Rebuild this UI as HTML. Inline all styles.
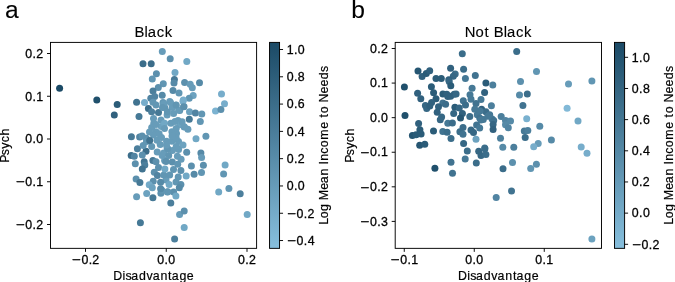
<!DOCTYPE html>
<html><head><meta charset="utf-8"><style>html,body{margin:0;padding:0;background:#fff;}svg{display:block;} text{-webkit-font-smoothing:antialiased;} .t{will-change:transform;}</style></head>
<body><svg width="675" height="282" viewBox="0 0 675 282">
<rect width="675" height="282" fill="#fff"/>
<defs>
<clipPath id="cl"><rect x="50.5" y="42.4" width="206.10000000000002" height="205.95"/></clipPath>
<clipPath id="cr"><rect x="395.2" y="42.4" width="206.3" height="205.95"/></clipPath>
<linearGradient id="g" x1="0" y1="1" x2="0" y2="0"><stop offset="0" stop-color="#87bfdd"/><stop offset="1" stop-color="#1b4a66"/></linearGradient>
</defs>
<g clip-path="url(#cl)">
<circle cx="176.5" cy="133.5" r="3.5" fill="#679cb9"/>
<circle cx="178.5" cy="141.5" r="3.5" fill="#679cb9"/>
<circle cx="177.0" cy="148.0" r="3.5" fill="#6196b3"/>
<circle cx="173.5" cy="169.5" r="3.5" fill="#6196b3"/>
<circle cx="166.0" cy="180.0" r="3.5" fill="#679cb9"/>
<circle cx="176.0" cy="182.0" r="3.5" fill="#6196b3"/>
<circle cx="59.6" cy="88.3" r="3.5" fill="#1b4a66"/>
<circle cx="96.8" cy="100.0" r="3.5" fill="#20506c"/>
<circle cx="117.2" cy="104.4" r="3.5" fill="#2b5c78"/>
<circle cx="114.3" cy="115.1" r="3.5" fill="#31617e"/>
<circle cx="136.6" cy="102.3" r="3.5" fill="#417390"/>
<circle cx="139.0" cy="116.5" r="3.5" fill="#467996"/>
<circle cx="162.3" cy="51.5" r="3.5" fill="#679cb9"/>
<circle cx="170.2" cy="58.8" r="3.5" fill="#5c90ad"/>
<circle cx="143.0" cy="63.8" r="3.5" fill="#3b6d8a"/>
<circle cx="151.2" cy="63.7" r="3.5" fill="#3b6d8a"/>
<circle cx="186.8" cy="61.5" r="3.5" fill="#71a8c5"/>
<circle cx="156.4" cy="73.7" r="3.5" fill="#5c90ad"/>
<circle cx="175.0" cy="72.4" r="3.5" fill="#71a8c5"/>
<circle cx="152.3" cy="79.0" r="3.5" fill="#6196b3"/>
<circle cx="174.4" cy="79.6" r="3.5" fill="#467996"/>
<circle cx="174.0" cy="83.0" r="3.5" fill="#568aa7"/>
<circle cx="163.3" cy="83.8" r="3.5" fill="#6196b3"/>
<circle cx="158.3" cy="87.6" r="3.5" fill="#5c90ad"/>
<circle cx="153.0" cy="90.9" r="3.5" fill="#4c7f9c"/>
<circle cx="173.0" cy="90.6" r="3.5" fill="#568aa7"/>
<circle cx="179.0" cy="92.9" r="3.5" fill="#6196b3"/>
<circle cx="184.6" cy="82.5" r="3.5" fill="#5c90ad"/>
<circle cx="190.2" cy="84.2" r="3.5" fill="#679cb9"/>
<circle cx="192.3" cy="87.8" r="3.5" fill="#679cb9"/>
<circle cx="199.5" cy="82.8" r="3.5" fill="#568aa7"/>
<circle cx="193.2" cy="95.5" r="3.5" fill="#6ca2bf"/>
<circle cx="189.2" cy="98.2" r="3.5" fill="#6196b3"/>
<circle cx="183.3" cy="100.0" r="3.5" fill="#77adcb"/>
<circle cx="144.5" cy="102.5" r="3.5" fill="#77adcb"/>
<circle cx="162.2" cy="95.2" r="3.5" fill="#568aa7"/>
<circle cx="154.7" cy="96.6" r="3.5" fill="#5184a2"/>
<circle cx="150.8" cy="98.2" r="3.5" fill="#5184a2"/>
<circle cx="153.0" cy="102.3" r="3.5" fill="#6196b3"/>
<circle cx="163.0" cy="102.5" r="3.5" fill="#6196b3"/>
<circle cx="169.7" cy="101.4" r="3.5" fill="#679cb9"/>
<circle cx="148.4" cy="108.4" r="3.5" fill="#3b6d8a"/>
<circle cx="176.0" cy="105.3" r="3.5" fill="#6196b3"/>
<circle cx="184.0" cy="106.6" r="3.5" fill="#5c90ad"/>
<circle cx="221.5" cy="94.0" r="3.5" fill="#77adcb"/>
<circle cx="224.5" cy="103.7" r="3.5" fill="#77adcb"/>
<circle cx="215.5" cy="110.9" r="3.5" fill="#7cb3d1"/>
<circle cx="220.9" cy="109.6" r="3.5" fill="#5c90ad"/>
<circle cx="172.2" cy="107.6" r="3.5" fill="#679cb9"/>
<circle cx="179.7" cy="110.5" r="3.5" fill="#6196b3"/>
<circle cx="189.5" cy="111.7" r="3.5" fill="#6ca2bf"/>
<circle cx="195.4" cy="113.0" r="3.5" fill="#5184a2"/>
<circle cx="201.8" cy="113.9" r="3.5" fill="#6196b3"/>
<circle cx="189.3" cy="119.3" r="3.5" fill="#467996"/>
<circle cx="200.3" cy="121.4" r="3.5" fill="#6196b3"/>
<circle cx="183.0" cy="101.2" r="3.5" fill="#77adcb"/>
<circle cx="151.6" cy="111.8" r="3.5" fill="#4c7f9c"/>
<circle cx="156.0" cy="105.0" r="3.5" fill="#6196b3"/>
<circle cx="158.5" cy="112.4" r="3.5" fill="#467996"/>
<circle cx="153.5" cy="118.6" r="3.5" fill="#679cb9"/>
<circle cx="161.0" cy="119.9" r="3.5" fill="#679cb9"/>
<circle cx="164.7" cy="107.4" r="3.5" fill="#6196b3"/>
<circle cx="167.1" cy="114.9" r="3.5" fill="#679cb9"/>
<circle cx="163.7" cy="103.7" r="3.5" fill="#679cb9"/>
<circle cx="162.5" cy="107.4" r="3.5" fill="#6196b3"/>
<circle cx="170.5" cy="102.5" r="3.5" fill="#679cb9"/>
<circle cx="167.4" cy="111.8" r="3.5" fill="#6196b3"/>
<circle cx="173.6" cy="113.6" r="3.5" fill="#679cb9"/>
<circle cx="178.6" cy="109.9" r="3.5" fill="#679cb9"/>
<circle cx="176.1" cy="105.0" r="3.5" fill="#6196b3"/>
<circle cx="183.6" cy="106.8" r="3.5" fill="#5c90ad"/>
<circle cx="178.0" cy="120.5" r="3.5" fill="#679cb9"/>
<circle cx="179.9" cy="124.8" r="3.5" fill="#6ca2bf"/>
<circle cx="182.1" cy="121.7" r="3.5" fill="#679cb9"/>
<circle cx="184.3" cy="127.0" r="3.5" fill="#6ca2bf"/>
<circle cx="187.9" cy="129.3" r="3.5" fill="#679cb9"/>
<circle cx="184.2" cy="126.7" r="3.5" fill="#679cb9"/>
<circle cx="131.4" cy="136.7" r="3.5" fill="#467996"/>
<circle cx="139.6" cy="137.0" r="3.5" fill="#5184a2"/>
<circle cx="137.4" cy="148.7" r="3.5" fill="#4c7f9c"/>
<circle cx="146.0" cy="151.2" r="3.5" fill="#3b6d8a"/>
<circle cx="131.2" cy="155.6" r="3.5" fill="#3b6d8a"/>
<circle cx="134.3" cy="156.2" r="3.5" fill="#5184a2"/>
<circle cx="142.3" cy="155.0" r="3.5" fill="#5c90ad"/>
<circle cx="135.3" cy="163.8" r="3.5" fill="#5c90ad"/>
<circle cx="144.2" cy="161.8" r="3.5" fill="#417390"/>
<circle cx="144.8" cy="164.9" r="3.5" fill="#4c7f9c"/>
<circle cx="152.9" cy="160.5" r="3.5" fill="#467996"/>
<circle cx="157.2" cy="151.9" r="3.5" fill="#679cb9"/>
<circle cx="162.2" cy="155.6" r="3.5" fill="#679cb9"/>
<circle cx="167.1" cy="148.1" r="3.5" fill="#679cb9"/>
<circle cx="164.7" cy="160.5" r="3.5" fill="#679cb9"/>
<circle cx="196.0" cy="138.8" r="3.5" fill="#71a8c5"/>
<circle cx="205.9" cy="136.3" r="3.5" fill="#6196b3"/>
<circle cx="200.9" cy="153.1" r="3.5" fill="#568aa7"/>
<circle cx="201.6" cy="157.4" r="3.5" fill="#679cb9"/>
<circle cx="191.4" cy="166.0" r="3.5" fill="#5c90ad"/>
<circle cx="203.4" cy="165.3" r="3.5" fill="#5c90ad"/>
<circle cx="186.7" cy="152.3" r="3.5" fill="#5c90ad"/>
<circle cx="183.0" cy="145.0" r="3.5" fill="#6ca2bf"/>
<circle cx="172.4" cy="150.6" r="3.5" fill="#679cb9"/>
<circle cx="178.6" cy="149.4" r="3.5" fill="#679cb9"/>
<circle cx="163.7" cy="153.1" r="3.5" fill="#679cb9"/>
<circle cx="168.7" cy="155.6" r="3.5" fill="#6196b3"/>
<circle cx="177.4" cy="156.2" r="3.5" fill="#679cb9"/>
<circle cx="181.1" cy="159.3" r="3.5" fill="#679cb9"/>
<circle cx="165.0" cy="160.5" r="3.5" fill="#679cb9"/>
<circle cx="142.3" cy="169.0" r="3.5" fill="#417390"/>
<circle cx="136.1" cy="178.9" r="3.5" fill="#5c90ad"/>
<circle cx="139.9" cy="182.6" r="3.5" fill="#467996"/>
<circle cx="146.7" cy="193.4" r="3.5" fill="#6ca2bf"/>
<circle cx="136.6" cy="196.7" r="3.5" fill="#679cb9"/>
<circle cx="152.9" cy="197.8" r="3.5" fill="#467996"/>
<circle cx="160.9" cy="193.2" r="3.5" fill="#5c90ad"/>
<circle cx="167.8" cy="191.7" r="3.5" fill="#6196b3"/>
<circle cx="194.1" cy="174.2" r="3.5" fill="#568aa7"/>
<circle cx="201.5" cy="172.4" r="3.5" fill="#6196b3"/>
<circle cx="173.6" cy="192.1" r="3.5" fill="#5c90ad"/>
<circle cx="175.9" cy="196.0" r="3.5" fill="#71a8c5"/>
<circle cx="167.4" cy="191.9" r="3.5" fill="#6196b3"/>
<circle cx="161.9" cy="190.2" r="3.5" fill="#6196b3"/>
<circle cx="170.8" cy="203.1" r="3.5" fill="#4c7f9c"/>
<circle cx="179.6" cy="214.6" r="3.5" fill="#679cb9"/>
<circle cx="184.2" cy="211.1" r="3.5" fill="#5c90ad"/>
<circle cx="140.4" cy="222.7" r="3.5" fill="#467996"/>
<circle cx="184.2" cy="227.4" r="3.5" fill="#71a8c5"/>
<circle cx="174.6" cy="239.0" r="3.5" fill="#4c7f9c"/>
<circle cx="225.1" cy="165.0" r="3.5" fill="#71a8c5"/>
<circle cx="223.6" cy="173.9" r="3.5" fill="#6196b3"/>
<circle cx="218.7" cy="192.0" r="3.5" fill="#71a8c5"/>
<circle cx="228.9" cy="188.4" r="3.5" fill="#6196b3"/>
<circle cx="240.2" cy="193.7" r="3.5" fill="#4c7f9c"/>
<circle cx="247.2" cy="214.4" r="3.5" fill="#71a8c5"/>
<circle cx="142.1" cy="136.0" r="3.5" fill="#5c90ad"/>
<circle cx="146.2" cy="138.2" r="3.5" fill="#5c90ad"/>
<circle cx="143.2" cy="145.5" r="3.5" fill="#6196b3"/>
<circle cx="153.8" cy="123.2" r="3.5" fill="#679cb9"/>
<circle cx="151.7" cy="127.4" r="3.5" fill="#679cb9"/>
<circle cx="156.0" cy="131.7" r="3.5" fill="#679cb9"/>
<circle cx="161.3" cy="126.4" r="3.5" fill="#6ca2bf"/>
<circle cx="164.5" cy="123.2" r="3.5" fill="#71a8c5"/>
<circle cx="170.9" cy="123.2" r="3.5" fill="#679cb9"/>
<circle cx="171.9" cy="131.7" r="3.5" fill="#679cb9"/>
<circle cx="176.2" cy="128.5" r="3.5" fill="#679cb9"/>
<circle cx="159.1" cy="133.8" r="3.5" fill="#679cb9"/>
<circle cx="164.5" cy="128.5" r="3.5" fill="#679cb9"/>
<circle cx="157.0" cy="140.2" r="3.5" fill="#679cb9"/>
<circle cx="160.2" cy="144.5" r="3.5" fill="#679cb9"/>
<circle cx="166.6" cy="141.3" r="3.5" fill="#679cb9"/>
<circle cx="171.9" cy="141.3" r="3.5" fill="#679cb9"/>
<circle cx="176.2" cy="138.1" r="3.5" fill="#679cb9"/>
<circle cx="151.7" cy="146.6" r="3.5" fill="#6196b3"/>
<circle cx="176.2" cy="146.6" r="3.5" fill="#679cb9"/>
<circle cx="167.7" cy="148.7" r="3.5" fill="#6196b3"/>
<circle cx="156.0" cy="124.5" r="3.5" fill="#679cb9"/>
<circle cx="172.0" cy="136.0" r="3.5" fill="#679cb9"/>
<circle cx="153.5" cy="135.0" r="3.5" fill="#679cb9"/>
<circle cx="161.5" cy="137.5" r="3.5" fill="#679cb9"/>
<circle cx="146.5" cy="141.5" r="3.5" fill="#6196b3"/>
<circle cx="166.5" cy="145.0" r="3.5" fill="#679cb9"/>
<circle cx="149.5" cy="132.0" r="3.5" fill="#679cb9"/>
<circle cx="175.0" cy="121.5" r="3.5" fill="#679cb9"/>
<circle cx="149.7" cy="140.6" r="3.5" fill="#417390"/>
<circle cx="158.5" cy="167.4" r="3.5" fill="#5c90ad"/>
<circle cx="154.3" cy="172.2" r="3.5" fill="#5c90ad"/>
<circle cx="157.4" cy="175.4" r="3.5" fill="#5184a2"/>
<circle cx="163.8" cy="174.9" r="3.5" fill="#6196b3"/>
<circle cx="169.7" cy="174.9" r="3.5" fill="#6196b3"/>
<circle cx="166.0" cy="161.5" r="3.5" fill="#5c90ad"/>
<circle cx="172.3" cy="162.1" r="3.5" fill="#5c90ad"/>
<circle cx="177.7" cy="164.3" r="3.5" fill="#6196b3"/>
<circle cx="180.9" cy="170.6" r="3.5" fill="#5c90ad"/>
<circle cx="178.2" cy="177.0" r="3.5" fill="#6196b3"/>
<circle cx="186.2" cy="176.0" r="3.5" fill="#71a8c5"/>
<circle cx="153.2" cy="181.3" r="3.5" fill="#5c90ad"/>
<circle cx="160.6" cy="182.3" r="3.5" fill="#568aa7"/>
<circle cx="180.9" cy="184.5" r="3.5" fill="#5c90ad"/>
<circle cx="160.6" cy="188.7" r="3.5" fill="#568aa7"/>
<circle cx="156.0" cy="161.8" r="3.5" fill="#5c90ad"/>
<circle cx="179.3" cy="187.8" r="3.5" fill="#568aa7"/>
<circle cx="164.9" cy="169.0" r="3.5" fill="#71a8c5"/>
<circle cx="169.1" cy="184.5" r="3.5" fill="#71a8c5"/>
<circle cx="149.2" cy="184.7" r="3.5" fill="#74aac8"/>
<circle cx="152.3" cy="187.8" r="3.5" fill="#6ca2bf"/>
</g>
<g clip-path="url(#cr)">
<circle cx="462.3" cy="53.8" r="3.5" fill="#3b6d8a"/>
<circle cx="516.7" cy="51.5" r="3.5" fill="#3b6d8a"/>
<circle cx="418" cy="70.9" r="3.5" fill="#265672"/>
<circle cx="422.1" cy="76.5" r="3.5" fill="#31617e"/>
<circle cx="426.3" cy="73.4" r="3.5" fill="#2b5c78"/>
<circle cx="429.7" cy="70.8" r="3.5" fill="#31617e"/>
<circle cx="436" cy="78.6" r="3.5" fill="#2b5c78"/>
<circle cx="441.3" cy="78.6" r="3.5" fill="#2b5c78"/>
<circle cx="404.4" cy="87" r="3.5" fill="#20506c"/>
<circle cx="431.4" cy="86.7" r="3.5" fill="#2b5c78"/>
<circle cx="433.6" cy="92.8" r="3.5" fill="#2b5c78"/>
<circle cx="417.6" cy="93.3" r="3.5" fill="#31617e"/>
<circle cx="420.8" cy="98.8" r="3.5" fill="#31617e"/>
<circle cx="450.6" cy="68.2" r="3.5" fill="#31617e"/>
<circle cx="463.6" cy="69.2" r="3.5" fill="#3b6d8a"/>
<circle cx="455.2" cy="74" r="3.5" fill="#3b6d8a"/>
<circle cx="453.3" cy="76.3" r="3.5" fill="#366784"/>
<circle cx="475.3" cy="75.4" r="3.5" fill="#417390"/>
<circle cx="465.4" cy="78.6" r="3.5" fill="#467996"/>
<circle cx="448.8" cy="79.8" r="3.5" fill="#31617e"/>
<circle cx="449.2" cy="81.5" r="3.5" fill="#366784"/>
<circle cx="450.8" cy="85.8" r="3.5" fill="#2b5c78"/>
<circle cx="442.9" cy="94.1" r="3.5" fill="#2b5c78"/>
<circle cx="446.8" cy="94.3" r="3.5" fill="#31617e"/>
<circle cx="447.8" cy="96.6" r="3.5" fill="#31617e"/>
<circle cx="450.6" cy="96.2" r="3.5" fill="#31617e"/>
<circle cx="454.2" cy="94.2" r="3.5" fill="#31617e"/>
<circle cx="472.1" cy="88.2" r="3.5" fill="#467996"/>
<circle cx="470" cy="94.8" r="3.5" fill="#467996"/>
<circle cx="471" cy="99.3" r="3.5" fill="#467996"/>
<circle cx="484.6" cy="92.6" r="3.5" fill="#31617e"/>
<circle cx="481" cy="99.5" r="3.5" fill="#467996"/>
<circle cx="485.9" cy="82.9" r="3.5" fill="#2b5c78"/>
<circle cx="492.8" cy="84.9" r="3.5" fill="#4c7f9c"/>
<circle cx="463.3" cy="100.8" r="3.5" fill="#417390"/>
<circle cx="465.5" cy="104.9" r="3.5" fill="#3b6d8a"/>
<circle cx="456.1" cy="94.1" r="3.5" fill="#366784"/>
<circle cx="436" cy="98.7" r="3.5" fill="#2b5c78"/>
<circle cx="431.6" cy="102.4" r="3.5" fill="#31617e"/>
<circle cx="425.4" cy="105.5" r="3.5" fill="#366784"/>
<circle cx="426.7" cy="108.6" r="3.5" fill="#366784"/>
<circle cx="429.8" cy="106.1" r="3.5" fill="#31617e"/>
<circle cx="442.8" cy="103" r="3.5" fill="#417390"/>
<circle cx="445.6" cy="104.2" r="3.5" fill="#3b6d8a"/>
<circle cx="438.5" cy="106.7" r="3.5" fill="#31617e"/>
<circle cx="437.2" cy="112.3" r="3.5" fill="#31617e"/>
<circle cx="441.6" cy="116.9" r="3.5" fill="#366784"/>
<circle cx="440.3" cy="119.8" r="3.5" fill="#366784"/>
<circle cx="405" cy="115.6" r="3.5" fill="#20506c"/>
<circle cx="418.6" cy="123.5" r="3.5" fill="#31617e"/>
<circle cx="447.8" cy="123.2" r="3.5" fill="#467996"/>
<circle cx="454.9" cy="107.3" r="3.5" fill="#2b5c78"/>
<circle cx="459.3" cy="108" r="3.5" fill="#366784"/>
<circle cx="476" cy="103.6" r="3.5" fill="#417390"/>
<circle cx="474.8" cy="109.2" r="3.5" fill="#467996"/>
<circle cx="481.6" cy="109.2" r="3.5" fill="#31617e"/>
<circle cx="485.9" cy="111.7" r="3.5" fill="#3b6d8a"/>
<circle cx="489.7" cy="114.8" r="3.5" fill="#467996"/>
<circle cx="491.4" cy="105.7" r="3.5" fill="#4c7f9c"/>
<circle cx="453.7" cy="113.5" r="3.5" fill="#366784"/>
<circle cx="462.4" cy="113.5" r="3.5" fill="#31617e"/>
<circle cx="460.5" cy="117.9" r="3.5" fill="#265672"/>
<circle cx="469.8" cy="116.4" r="3.5" fill="#3b6d8a"/>
<circle cx="477.3" cy="114.8" r="3.5" fill="#467996"/>
<circle cx="479.7" cy="117.9" r="3.5" fill="#417390"/>
<circle cx="492.1" cy="119.1" r="3.5" fill="#467996"/>
<circle cx="480" cy="111" r="3.5" fill="#467996"/>
<circle cx="483.3" cy="119.4" r="3.5" fill="#467996"/>
<circle cx="520.5" cy="81.5" r="3.5" fill="#5c90ad"/>
<circle cx="519.5" cy="95" r="3.5" fill="#568aa7"/>
<circle cx="527.3" cy="93.9" r="3.5" fill="#3b6d8a"/>
<circle cx="536.5" cy="71.4" r="3.5" fill="#6196b3"/>
<circle cx="568.5" cy="83.9" r="3.5" fill="#679cb9"/>
<circle cx="591.9" cy="80.9" r="3.5" fill="#6196b3"/>
<circle cx="522.9" cy="105.5" r="3.5" fill="#417390"/>
<circle cx="501.2" cy="116.4" r="3.5" fill="#4c7f9c"/>
<circle cx="493.7" cy="120.4" r="3.5" fill="#417390"/>
<circle cx="493.1" cy="124.6" r="3.5" fill="#366784"/>
<circle cx="493.1" cy="129.5" r="3.5" fill="#31617e"/>
<circle cx="505.5" cy="120.4" r="3.5" fill="#5184a2"/>
<circle cx="510.5" cy="121.1" r="3.5" fill="#568aa7"/>
<circle cx="505.5" cy="124.8" r="3.5" fill="#568aa7"/>
<circle cx="508.3" cy="127.7" r="3.5" fill="#5184a2"/>
<circle cx="526.7" cy="118.7" r="3.5" fill="#7ab1cf"/>
<circle cx="539.8" cy="126.2" r="3.5" fill="#568aa7"/>
<circle cx="524.3" cy="130.9" r="3.5" fill="#467996"/>
<circle cx="527.8" cy="130.5" r="3.5" fill="#4c7f9c"/>
<circle cx="525.2" cy="137.6" r="3.5" fill="#3b6d8a"/>
<circle cx="567.1" cy="108.2" r="3.5" fill="#82b9d7"/>
<circle cx="578" cy="121" r="3.5" fill="#71a8c5"/>
<circle cx="551.4" cy="140.1" r="3.5" fill="#568aa7"/>
<circle cx="538.2" cy="143.6" r="3.5" fill="#679cb9"/>
<circle cx="533.7" cy="146.7" r="3.5" fill="#77adcb"/>
<circle cx="581.2" cy="147" r="3.5" fill="#77adcb"/>
<circle cx="587" cy="153.2" r="3.5" fill="#77adcb"/>
<circle cx="419.9" cy="129.8" r="3.5" fill="#2b5c78"/>
<circle cx="412.4" cy="135.4" r="3.5" fill="#265672"/>
<circle cx="416.1" cy="134.7" r="3.5" fill="#2b5c78"/>
<circle cx="421.1" cy="134.1" r="3.5" fill="#2b5c78"/>
<circle cx="433.5" cy="131" r="3.5" fill="#2b5c78"/>
<circle cx="419.7" cy="145.3" r="3.5" fill="#265672"/>
<circle cx="424.8" cy="144.2" r="3.5" fill="#2b5c78"/>
<circle cx="442.8" cy="131.6" r="3.5" fill="#417390"/>
<circle cx="447.1" cy="132.3" r="3.5" fill="#3b6d8a"/>
<circle cx="451" cy="138.6" r="3.5" fill="#3b6d8a"/>
<circle cx="480.9" cy="120" r="3.5" fill="#467996"/>
<circle cx="487.8" cy="116.2" r="3.5" fill="#467996"/>
<circle cx="452.4" cy="123.1" r="3.5" fill="#3b6d8a"/>
<circle cx="463" cy="127.4" r="3.5" fill="#3b6d8a"/>
<circle cx="459.9" cy="131.7" r="3.5" fill="#3b6d8a"/>
<circle cx="463" cy="134.2" r="3.5" fill="#417390"/>
<circle cx="471" cy="129.9" r="3.5" fill="#366784"/>
<circle cx="473.5" cy="132.4" r="3.5" fill="#366784"/>
<circle cx="476.6" cy="124.9" r="3.5" fill="#417390"/>
<circle cx="479.7" cy="128" r="3.5" fill="#467996"/>
<circle cx="476" cy="139.2" r="3.5" fill="#6ca2bf"/>
<circle cx="463.6" cy="143.4" r="3.5" fill="#366784"/>
<circle cx="484.7" cy="147.9" r="3.5" fill="#417390"/>
<circle cx="467.3" cy="151" r="3.5" fill="#3b6d8a"/>
<circle cx="465.2" cy="159.1" r="3.5" fill="#467996"/>
<circle cx="451" cy="162.3" r="3.5" fill="#417390"/>
<circle cx="452.5" cy="173.2" r="3.5" fill="#417390"/>
<circle cx="434.9" cy="168.2" r="3.5" fill="#20506c"/>
<circle cx="500.5" cy="138.3" r="3.5" fill="#4c7f9c"/>
<circle cx="502.8" cy="147.3" r="3.5" fill="#568aa7"/>
<circle cx="513.8" cy="147.3" r="3.5" fill="#4c7f9c"/>
<circle cx="478.7" cy="151.3" r="3.5" fill="#366784"/>
<circle cx="484.9" cy="148.7" r="3.5" fill="#3b6d8a"/>
<circle cx="481" cy="155.6" r="3.5" fill="#366784"/>
<circle cx="485.9" cy="154.5" r="3.5" fill="#3b6d8a"/>
<circle cx="476.3" cy="163" r="3.5" fill="#3b6d8a"/>
<circle cx="512.5" cy="162.5" r="3.5" fill="#5c90ad"/>
<circle cx="503" cy="168.7" r="3.5" fill="#3b6d8a"/>
<circle cx="530.7" cy="168.4" r="3.5" fill="#6196b3"/>
<circle cx="536.4" cy="164.3" r="3.5" fill="#5c90ad"/>
<circle cx="511.5" cy="190.9" r="3.5" fill="#417390"/>
<circle cx="496.2" cy="197.5" r="3.5" fill="#5184a2"/>
<circle cx="591.9" cy="239" r="3.5" fill="#6ca2bf"/>
</g>
<rect x="50.5" y="42.4" width="206.10" height="205.95" stroke="#000" stroke-width="0.95" fill="none"/>
<rect x="395.2" y="42.4" width="206.30" height="205.95" stroke="#000" stroke-width="0.95" fill="none"/>
<rect x="269.55" y="42.4" width="10.00" height="205.95" fill="url(#g)"/>
<rect x="269.55" y="42.4" width="10.00" height="205.95" stroke="#000" stroke-width="0.95" fill="none"/>
<rect x="614.5" y="42.4" width="10.10" height="205.95" fill="url(#g)"/>
<rect x="614.5" y="42.4" width="10.10" height="205.95" stroke="#000" stroke-width="0.95" fill="none"/>
<g class="t" font-family="'Liberation Sans', sans-serif" fill="#000" stroke="#000" stroke-width="0.3" opacity="0.999">
<line x1="47.0" y1="53.50" x2="50.5" y2="53.50" stroke="#000" stroke-width="0.95" fill="none"/>
<text x="25.21 32.50 36.19" y="57.75" font-size="12.37">0.2</text>
<line x1="47.0" y1="96.25" x2="50.5" y2="96.25" stroke="#000" stroke-width="0.95" fill="none"/>
<text x="25.21 32.50 36.28" y="100.50" font-size="12.37">0.1</text>
<line x1="47.0" y1="139.00" x2="50.5" y2="139.00" stroke="#000" stroke-width="0.95" fill="none"/>
<text x="25.21 32.50 36.34" y="143.25" font-size="12.37">0.0</text>
<line x1="47.0" y1="181.75" x2="50.5" y2="181.75" stroke="#000" stroke-width="0.95" fill="none"/>
<text x="15.66" y="186.45" font-size="12.37" textLength="8.78" lengthAdjust="spacingAndGlyphs">−</text>
<text x="25.21 32.50 36.28" y="186.00" font-size="12.37">0.1</text>
<line x1="47.0" y1="224.50" x2="50.5" y2="224.50" stroke="#000" stroke-width="0.95" fill="none"/>
<text x="15.66" y="229.20" font-size="12.37" textLength="8.78" lengthAdjust="spacingAndGlyphs">−</text>
<text x="25.21 32.50 36.19" y="228.75" font-size="12.37">0.2</text>
<line x1="85.50" y1="248.35" x2="85.50" y2="251.85" stroke="#000" stroke-width="0.95" fill="none"/>
<text x="71.83" y="264.45" font-size="12.37" textLength="8.78" lengthAdjust="spacingAndGlyphs">−</text>
<text x="81.38 88.67 92.36" y="264.00" font-size="12.37">0.2</text>
<line x1="166.25" y1="248.35" x2="166.25" y2="251.85" stroke="#000" stroke-width="0.95" fill="none"/>
<text x="157.24 164.53 168.37" y="264.00" font-size="12.37">0.0</text>
<line x1="247.00" y1="248.35" x2="247.00" y2="251.85" stroke="#000" stroke-width="0.95" fill="none"/>
<text x="237.99 245.28 248.97" y="264.00" font-size="12.37">0.2</text>
<line x1="391.7" y1="48.50" x2="395.2" y2="48.50" stroke="#000" stroke-width="0.95" fill="none"/>
<text x="369.91 377.20 380.89" y="52.75" font-size="12.37">0.2</text>
<line x1="391.7" y1="83.08" x2="395.2" y2="83.08" stroke="#000" stroke-width="0.95" fill="none"/>
<text x="369.91 377.20 380.98" y="87.33" font-size="12.37">0.1</text>
<line x1="391.7" y1="117.66" x2="395.2" y2="117.66" stroke="#000" stroke-width="0.95" fill="none"/>
<text x="369.91 377.20 381.04" y="121.91" font-size="12.37">0.0</text>
<line x1="391.7" y1="152.24" x2="395.2" y2="152.24" stroke="#000" stroke-width="0.95" fill="none"/>
<text x="360.36" y="156.94" font-size="12.37" textLength="8.78" lengthAdjust="spacingAndGlyphs">−</text>
<text x="369.91 377.20 380.98" y="156.49" font-size="12.37">0.1</text>
<line x1="391.7" y1="186.82" x2="395.2" y2="186.82" stroke="#000" stroke-width="0.95" fill="none"/>
<text x="360.36" y="191.52" font-size="12.37" textLength="8.78" lengthAdjust="spacingAndGlyphs">−</text>
<text x="369.91 377.20 380.89" y="191.07" font-size="12.37">0.2</text>
<line x1="391.7" y1="221.40" x2="395.2" y2="221.40" stroke="#000" stroke-width="0.95" fill="none"/>
<text x="360.36" y="226.10" font-size="12.37" textLength="8.78" lengthAdjust="spacingAndGlyphs">−</text>
<text x="369.91 377.20 381.06" y="225.65" font-size="12.37">0.3</text>
<line x1="404.25" y1="248.35" x2="404.25" y2="251.85" stroke="#000" stroke-width="0.95" fill="none"/>
<text x="390.58" y="264.45" font-size="12.37" textLength="8.78" lengthAdjust="spacingAndGlyphs">−</text>
<text x="400.13 407.42 411.20" y="264.00" font-size="12.37">0.1</text>
<line x1="474.25" y1="248.35" x2="474.25" y2="251.85" stroke="#000" stroke-width="0.95" fill="none"/>
<text x="465.24 472.53 476.37" y="264.00" font-size="12.37">0.0</text>
<line x1="544.25" y1="248.35" x2="544.25" y2="251.85" stroke="#000" stroke-width="0.95" fill="none"/>
<text x="535.24 542.53 546.31" y="264.00" font-size="12.37">0.1</text>
<line x1="279.55" y1="49.50" x2="283.05" y2="49.50" stroke="#000" stroke-width="0.95" fill="none"/>
<text x="286.66 294.01 297.85" y="53.75" font-size="12.37">1.0</text>
<line x1="279.55" y1="76.79" x2="283.05" y2="76.79" stroke="#000" stroke-width="0.95" fill="none"/>
<text x="286.72 294.01 297.85" y="81.04" font-size="12.37">0.8</text>
<line x1="279.55" y1="104.08" x2="283.05" y2="104.08" stroke="#000" stroke-width="0.95" fill="none"/>
<text x="286.72 294.01 297.85" y="108.33" font-size="12.37">0.6</text>
<line x1="279.55" y1="131.38" x2="283.05" y2="131.38" stroke="#000" stroke-width="0.95" fill="none"/>
<text x="286.72 294.01 297.85" y="135.63" font-size="12.37">0.4</text>
<line x1="279.55" y1="158.67" x2="283.05" y2="158.67" stroke="#000" stroke-width="0.95" fill="none"/>
<text x="286.72 294.01 297.70" y="162.92" font-size="12.37">0.2</text>
<line x1="279.55" y1="185.96" x2="283.05" y2="185.96" stroke="#000" stroke-width="0.95" fill="none"/>
<text x="286.72 294.01 297.85" y="190.21" font-size="12.37">0.0</text>
<line x1="279.55" y1="213.25" x2="283.05" y2="213.25" stroke="#000" stroke-width="0.95" fill="none"/>
<text x="286.94" y="217.95" font-size="12.37" textLength="8.78" lengthAdjust="spacingAndGlyphs">−</text>
<text x="296.50 303.78 307.48" y="217.50" font-size="12.37">0.2</text>
<line x1="279.55" y1="240.54" x2="283.05" y2="240.54" stroke="#000" stroke-width="0.95" fill="none"/>
<text x="286.94" y="245.24" font-size="12.37" textLength="8.78" lengthAdjust="spacingAndGlyphs">−</text>
<text x="296.50 303.78 307.63" y="244.79" font-size="12.37">0.4</text>
<line x1="624.6" y1="57.30" x2="628.1" y2="57.30" stroke="#000" stroke-width="0.95" fill="none"/>
<text x="631.71 639.06 642.90" y="61.55" font-size="12.37">1.0</text>
<line x1="624.6" y1="88.47" x2="628.1" y2="88.47" stroke="#000" stroke-width="0.95" fill="none"/>
<text x="631.77 639.06 642.90" y="92.72" font-size="12.37">0.8</text>
<line x1="624.6" y1="119.63" x2="628.1" y2="119.63" stroke="#000" stroke-width="0.95" fill="none"/>
<text x="631.77 639.06 642.90" y="123.88" font-size="12.37">0.6</text>
<line x1="624.6" y1="150.80" x2="628.1" y2="150.80" stroke="#000" stroke-width="0.95" fill="none"/>
<text x="631.77 639.06 642.90" y="155.05" font-size="12.37">0.4</text>
<line x1="624.6" y1="181.96" x2="628.1" y2="181.96" stroke="#000" stroke-width="0.95" fill="none"/>
<text x="631.77 639.06 642.75" y="186.21" font-size="12.37">0.2</text>
<line x1="624.6" y1="213.13" x2="628.1" y2="213.13" stroke="#000" stroke-width="0.95" fill="none"/>
<text x="631.77 639.06 642.90" y="217.38" font-size="12.37">0.0</text>
<line x1="624.6" y1="244.30" x2="628.1" y2="244.30" stroke="#000" stroke-width="0.95" fill="none"/>
<text x="631.99" y="249.00" font-size="12.37" textLength="8.78" lengthAdjust="spacingAndGlyphs">−</text>
<text x="641.55 648.83 652.53" y="248.55" font-size="12.37">0.2</text>
<text x="113.28 122.47 125.49 131.23 138.89 146.46 152.70 160.44 168.09 171.82 179.48 186.86" y="279.60" font-size="12.37" stroke-width="0.2">Disadvantage</text>
<text x="458.08 467.27 470.29 476.03 483.69 491.26 497.50 505.24 512.89 516.62 524.28 531.66" y="279.60" font-size="12.37" stroke-width="0.2">Disadvantage</text>
<text transform="translate(9.00,145.38) rotate(-90)" x="-17.33 -9.85 -3.44 3.08 9.79" y="0.00" font-size="12.37" stroke-width="0.2">Psych</text>
<text transform="translate(353.70,145.38) rotate(-90)" x="-17.33 -9.85 -3.44 3.08 9.79" y="0.00" font-size="12.37" stroke-width="0.2">Psych</text>
<text transform="translate(327.80,145.38) rotate(-90)" x="-79.41 -72.82 -65.62 -58.41 -54.82 -44.46 -37.76 -30.02 -22.90 -19.19 -15.47 -8.38 -1.81 5.76 16.74 23.75 28.00 32.17 39.17 42.78 51.79 58.97 66.17 73.41" y="0.00" font-size="12.37" stroke-width="0.2">Log Mean Income to Needs</text>
<text transform="translate(672.80,145.38) rotate(-90)" x="-79.41 -72.82 -65.62 -58.41 -54.82 -44.46 -37.76 -30.02 -22.90 -19.19 -15.47 -8.38 -1.81 5.76 16.74 23.75 28.00 32.17 39.17 42.78 51.79 58.97 66.17 73.41" y="0.00" font-size="12.37" stroke-width="0.2">Log Mean Income to Needs</text>
<text x="134.44 144.51 147.74 156.66 164.83" y="36.60" font-size="14.83" stroke-width="0.12">Black</text>
<text x="464.80 475.56 484.61 489.45 493.73 503.80 507.03 515.95 524.12" y="36.60" font-size="14.83" stroke-width="0.12">Not Black</text>
<text x="4.88" y="18.40" font-size="24.6" stroke-width="0.1">a</text>
<text x="351.31" y="18.40" font-size="24.6" stroke-width="0.1">b</text>
</g>
</svg></body></html>
